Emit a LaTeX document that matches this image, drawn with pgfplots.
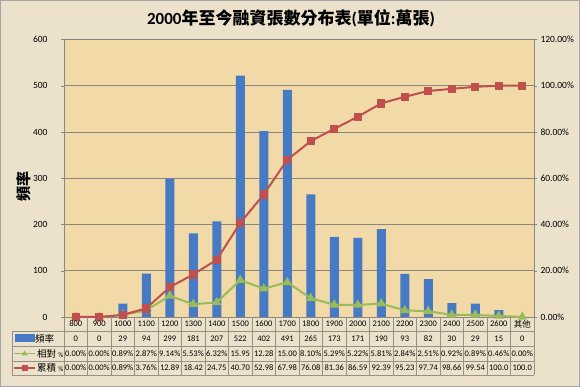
\documentclass[border=0pt]{standalone}
\usepackage{pgfplots}
\pgfplotsset{compat=1.18}
\usepackage{fontspec}
\setmainfont{Carlito}
\newfontfamily\cjk{Noto Sans CJK TC}
\definecolor{bgouter}{RGB}{236,226,204}
\definecolor{plotbg}{RGB}{241,218,168}
\definecolor{barblue}{RGB}{70,122,196}
\definecolor{linered}{RGB}{192,80,77}
\definecolor{linegreen}{RGB}{155,187,89}
\definecolor{gridgray}{RGB}{140,135,125}
\definecolor{tblgray}{RGB}{150,145,135}
\begin{document}
\begin{tikzpicture}[x=1pt,y=1pt]
\fill[bgouter] (0,0) rectangle (580,387);
\draw[gray!70] (0.5,0.5) rectangle (579.5,386.5);
\node[font=\bfseries\fontsize{17}{17}\selectfont] at (291,369) {2000{\cjk 年至今融資張數分布表}({\cjk 單位}:{\cjk 萬張})};
\node[rotate=90,font=\cjk\bfseries\fontsize{15}{15}\selectfont] at (24,200) {頻率};
\begin{axis}[
  at={(64pt,70pt)}, anchor=south west,
  width=470pt, height=277.5pt, scale only axis,
  xmin=-0.5, xmax=19.5, ymin=0, ymax=600,
  ytick={0,100,200,300,400,500,600},
  xtick=\empty,
  ymajorgrids, grid style={gridgray, line width=0.6pt},
  axis background/.style={fill=plotbg},
  axis line style={gridgray, line width=0.6pt},
  tick style={gridgray},
  ytick pos=left, tick align=outside, major tick length=3pt,
  /pgf/number format/assume math mode=true,
  yticklabel style={font=\fontsize{9.5}{10}\selectfont, xshift=-10pt},
  ]
\addplot[ybar, bar width=9pt, fill=barblue, draw=none] coordinates {
 (0,0) (1,0) (2,29) (3,94) (4,299) (5,181) (6,207) (7,522) (8,402) (9,491)
 (10,265) (11,173) (12,171) (13,190) (14,93) (15,82) (16,30) (17,29) (18,15) (19,0)};
\end{axis}
\begin{axis}[
  at={(64pt,70pt)}, anchor=south west,
  width=470pt, height=277.5pt, scale only axis,
  xmin=-0.5, xmax=19.5, ymin=0, ymax=120,
  ytick={0,20,40,60,80,100,120},
  axis x line=none, axis y line*=right,
  axis line style={gridgray, line width=0.6pt},
  tick style={gridgray},
  tick align=outside, major tick length=3pt,
  /pgf/number format/assume math mode=true,
  yticklabel={\pgfmathprintnumber[fixed,fixed zerofill,precision=2]{\tick}\%},
  yticklabel style={font=\fontsize{9.5}{10}\selectfont},
  clip=false,
  ]
\addplot[color=linegreen, line width=2pt, mark=triangle*, mark size=3.5pt, mark options={fill=linegreen}] coordinates {
 (0,0) (1,0) (2,0.89) (3,2.87) (4,9.14) (5,5.53) (6,6.32) (7,15.95) (8,12.28) (9,15.00)
 (10,8.10) (11,5.29) (12,5.22) (13,5.81) (14,2.84) (15,2.51) (16,0.92) (17,0.89) (18,0.46) (19,0)};
\addplot[color=linered, line width=2pt, mark=square*, mark size=3.2pt, mark options={fill=linered}] coordinates {
 (0,0) (1,0) (2,0.89) (3,3.76) (4,12.89) (5,18.42) (6,24.75) (7,40.70) (8,52.98) (9,67.98)
 (10,76.08) (11,81.36) (12,86.59) (13,92.39) (14,95.23) (15,97.74) (16,98.66) (17,99.54) (18,100.0) (19,100.0)};
\end{axis}
% data table
\draw[tblgray, line width=0.6pt] (12,56) -- (534,56) (12,41) -- (534,41) (12,26) -- (534,26) (12,12) -- (534,12);
\draw[tblgray, line width=0.6pt] (12,12) -- (12,56);
\foreach \k in {0,...,20} {\draw[tblgray, line width=0.6pt] ({64+23.5*\k},12) -- ({64+23.5*\k},70);}
\foreach \lab [count=\i from 0] in {800,900,1000,1100,1200,1300,1400,1500,1600,1700,1800,1900,2000,2100,2200,2300,2400,2500,2600,{\cjk 其他}}
  {\node[font=\fontsize{8.5}{9}\selectfont] at ({75.75+23.5*\i},63) {\lab};}
\foreach \lab [count=\i from 0] in {0,0,29,94,299,181,207,522,402,491,265,173,171,190,93,82,30,29,15,0}
  {\node[font=\fontsize{8.5}{9}\selectfont] at ({75.75+23.5*\i},48.5) {\lab};}
\foreach \lab [count=\i from 0] in {0.00\%,0.00\%,0.89\%,2.87\%,9.14\%,5.53\%,6.32\%,15.95,12.28,15.00,8.10\%,5.29\%,5.22\%,5.81\%,2.84\%,2.51\%,0.92\%,0.89\%,0.46\%,0.00\%}
  {\node[font=\fontsize{8.5}{9}\selectfont] at ({75.75+23.5*\i},33.5) {\lab};}
\foreach \lab [count=\i from 0] in {0.00\%,0.00\%,0.89\%,3.76\%,12.89,18.42,24.75,40.70,52.98,67.98,76.08,81.36,86.59,92.39,95.23,97.74,98.66,99.54,100.0,100.0}
  {\node[font=\fontsize{8.5}{9}\selectfont] at ({75.75+23.5*\i},19) {\lab};}
% legend keys
\fill[barblue] (15,44.5) rectangle (35,52.5);
\node[anchor=west, inner sep=0pt, font=\cjk\fontsize{9.5}{10}\selectfont] at (35,48.5) {頻率};
\draw[linegreen, line width=1.6pt] (14,33.5) -- (35,33.5);
\fill[linegreen] (24.5,36.5) -- (21.5,31.5) -- (27.5,31.5) -- cycle;
\node[anchor=west, inner sep=0pt, font=\fontsize{9.5}{10}\selectfont] at (37,33.5) {{\cjk 相對} {\fontsize{7}{8}\selectfont\%}};
\draw[linered, line width=1.6pt] (14,19) -- (35,19);
\fill[linered] (21.5,16) rectangle (27.5,22);
\node[anchor=west, inner sep=0pt, font=\fontsize{9.5}{10}\selectfont] at (37,19) {{\cjk 累積} {\fontsize{7}{8}\selectfont\%}};
\end{tikzpicture}
\end{document}
